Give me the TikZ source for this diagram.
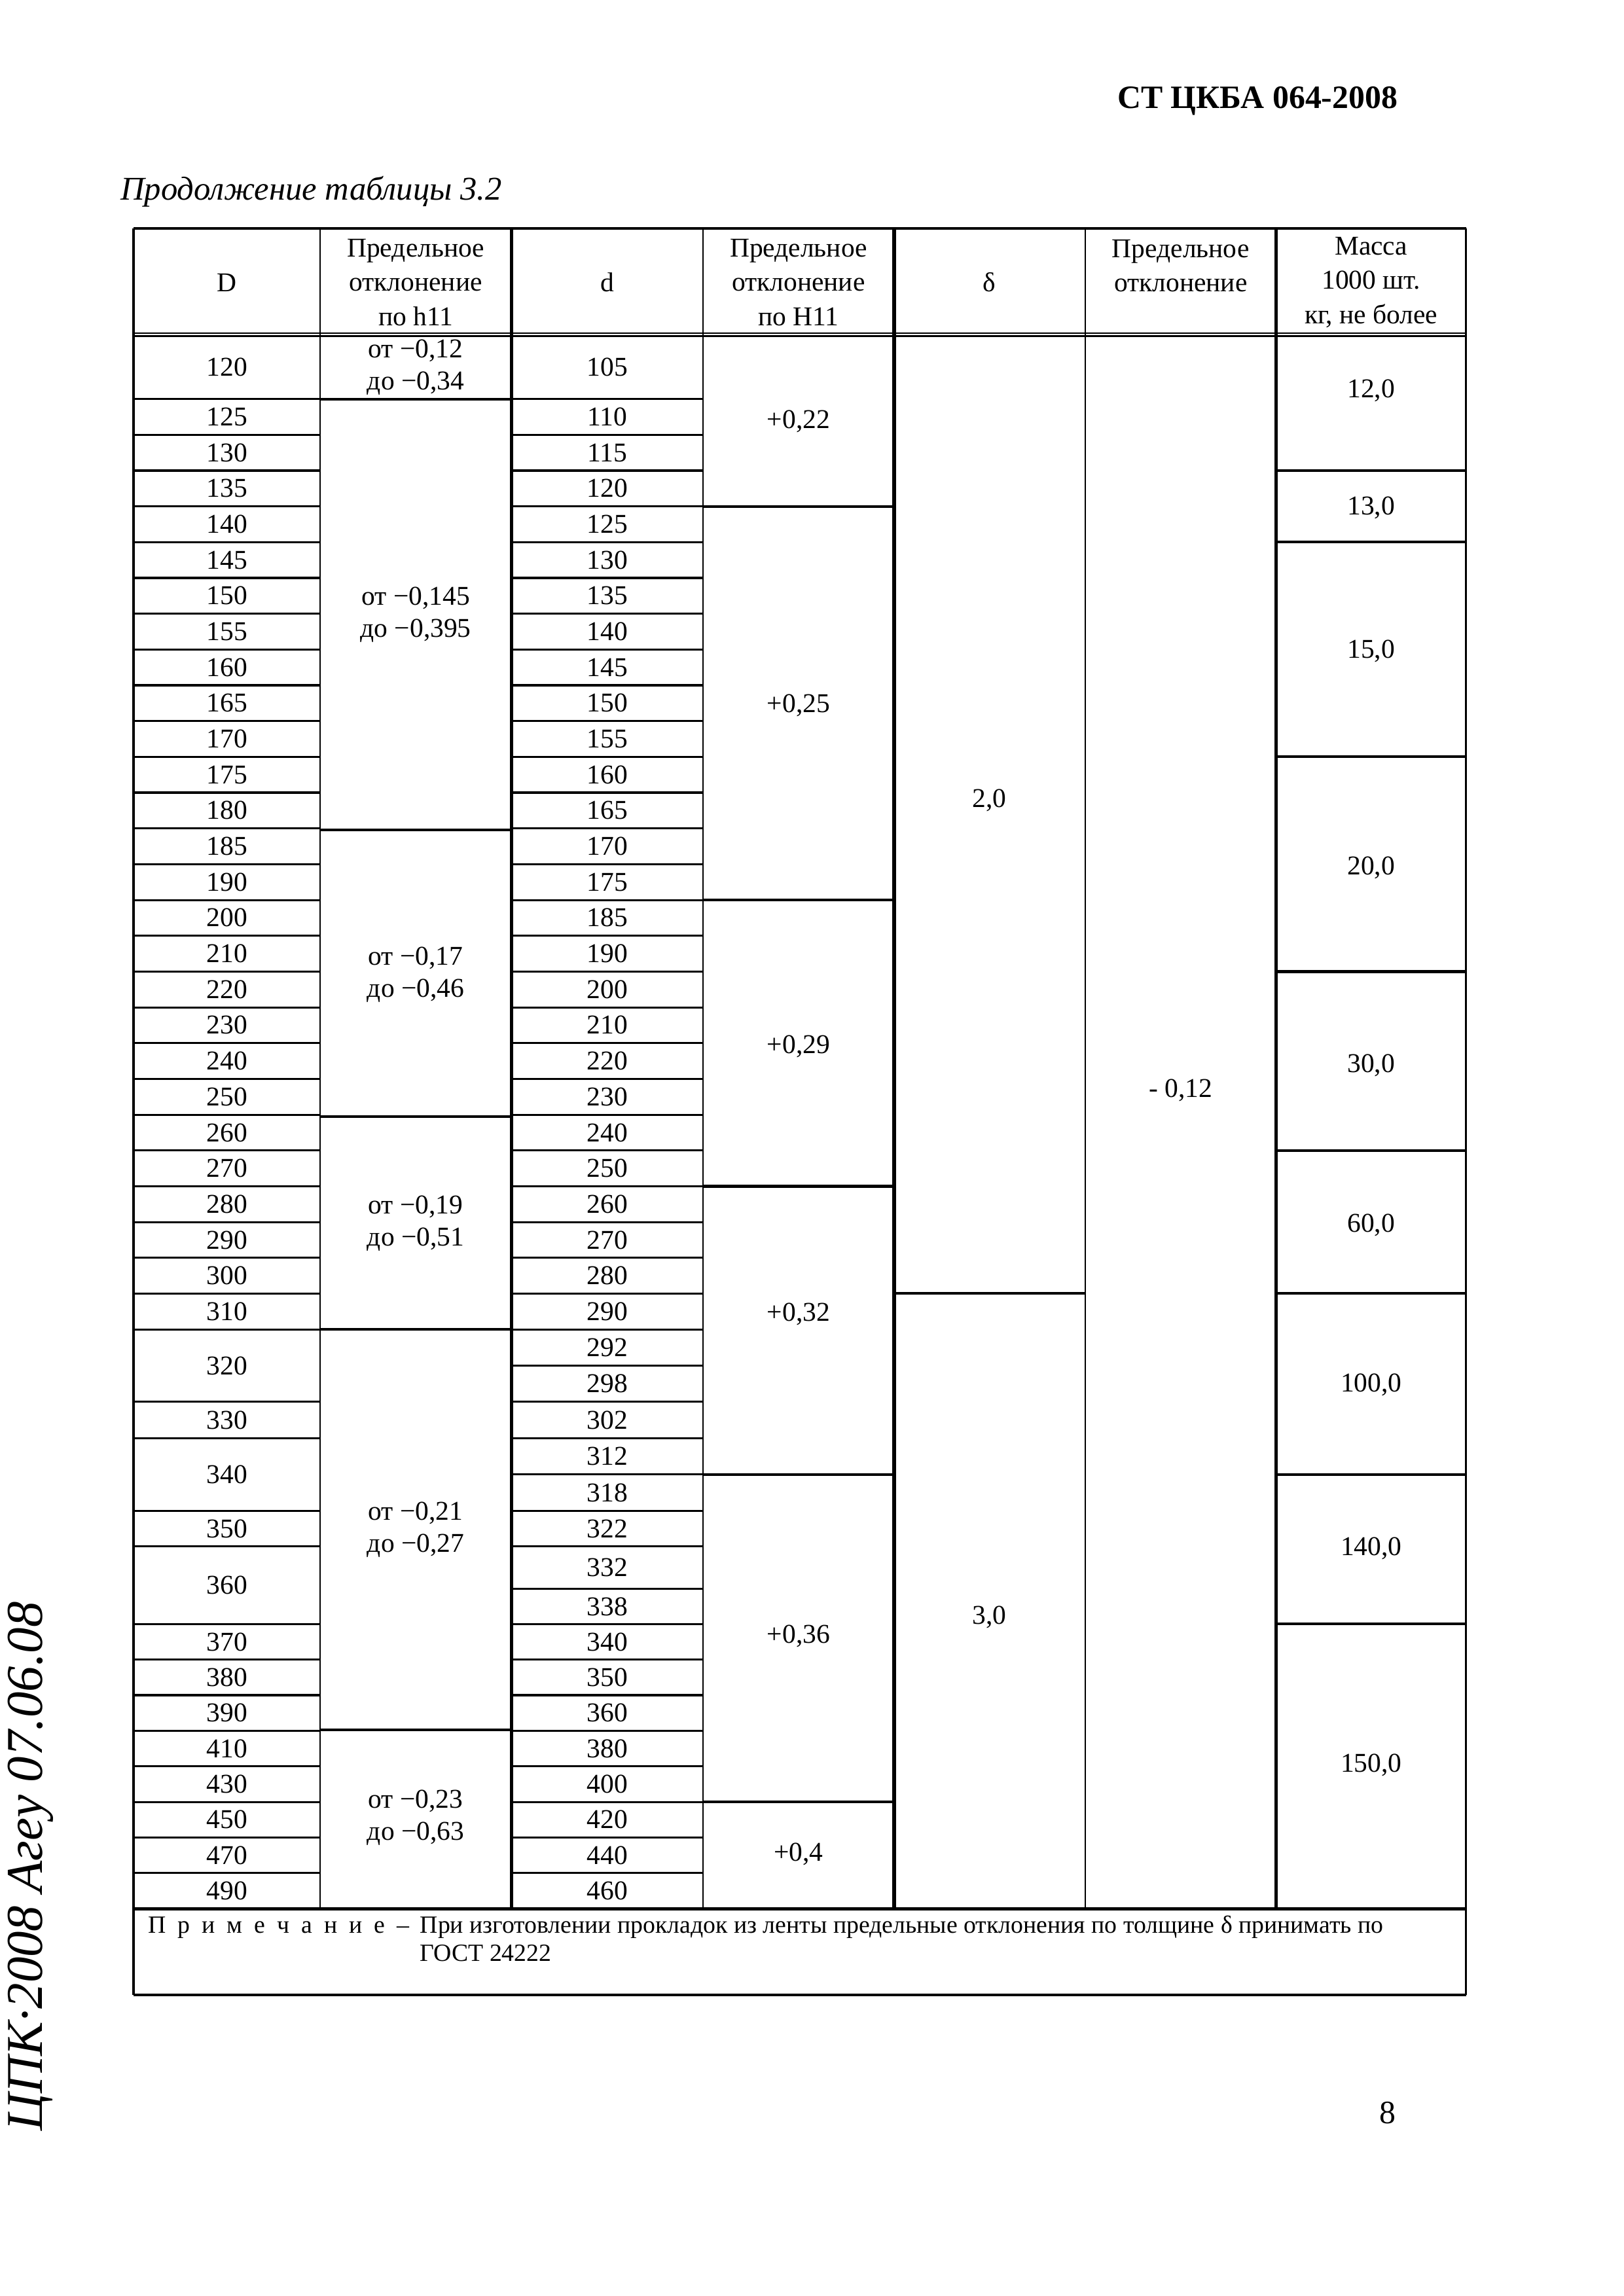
\documentclass[tikz,border=0pt]{standalone}
\usepackage{fontspec}
\setmainfont{Liberation Serif}
\usetikzlibrary{positioning}

\begin{document}
\begin{tikzpicture}[x=0.18936mm, y=-0.18936mm,
    thinrule/.style={line width=0.6pt},
    rowrule/.style={line width=0.75pt},
    grouprule/.style={line width=1pt},
    thickrule/.style={line width=1.25pt},
    cell/.style={font=\fontsize{10}{11.8}\selectfont, align=center, inner sep=0pt},
    head/.style={font=\fontsize{10}{12.6}\selectfont, align=center, inner sep=0pt},
    note/.style={font=\fontsize{9.1}{10.3}\selectfont, inner sep=0pt, anchor=base west}
]

\useasboundingbox (0,0) rectangle (1109,1568.7);

% column borders
\def\xA{91.2}\def\xB{218.6}\def\xC{349.6}\def\xD{480.2}
\def\xE{610.8}\def\xF{741.3}\def\xG{871.9}\def\xH{1001.5}

% page header
\node[anchor=base west, inner sep=0pt, font=\bfseries\fontsize{12}{14}\selectfont] (std) at (763,73.8) {СТ ЦКБА 064-2008};
\node[anchor=base west, inner sep=0pt, font=\itshape\fontsize{12.2}{14}\selectfont] (cont) at (82,136.4) {Продолжение таблицы 3.2};

% frame and column lines
\draw[grouprule] (\xA,156) -- (\xH,156);
\draw[thinrule] (\xA,227.6) -- (\xH,227.6);
\draw[thinrule] (\xA,229.6) -- (\xH,229.6);
\foreach \x/\st in {\xB/thinrule,\xC/thickrule,\xD/thinrule,\xE/thickrule,\xF/thinrule,\xG/thickrule}
    \draw[\st] (\x,156) -- (\x,1304);
\draw[grouprule] (\xA,156) -- (\xA,1363);
\draw[thinrule] (\xH,156) -- (\xH,1363);
\draw[thickrule] (\xA,1304) -- (\xH,1304);
\draw[grouprule] (\xA,1363) -- (\xH,1363);

% header row
\node[head] (hD) at (155,193) {D};
\node[head] (hDev) at (284,193) {Предельное\\отклонение\\по h11};
\node[head] (hd) at (415,193) {d};
\node[head] (hdev) at (545.5,193) {Предельное\\отклонение\\по H11};
\node[head] (hdelta) at (676,193) {δ};
\node[head] (hddev) at (806.6,181.5) {Предельное\\отклонение};
\node[head] (hmass) at (936.7,193) {Масса\\1000 шт.\\кг, не более};

% first row
\node[cell] (D120) at (155,251) {120};
\node[cell] (d105) at (415,251) {105};

% single rows 125 ... 310
\foreach \dv/\sv [count=\i from 0] in {125/110,130/115,135/120,140/125,145/130,150/135,155/140,160/145,165/150,170/155,175/160,180/165,185/170,190/175,200/185,210/190,220/200,230/210,240/220,250/230,260/240,270/250,280/260,290/270,300/280,310/290}{
    \pgfmathsetmacro\yt{272.6+\i*24.45}
    \draw[rowrule] (\xA,\yt) -- (\xB,\yt);
    \draw[rowrule] (\xC,\yt) -- (\xD,\yt);
    \node[cell] (D\dv) at (155,\yt+12.2) {\dv};
    \node[cell] (d\sv) at (415,\yt+12.2) {\sv};
}

% rows 320 ... 360
\foreach \y in {908.3,957.8,982.5,1032.2,1056.6}{
    \draw[rowrule] (\xA,\y) -- (\xB,\y);
    \draw[rowrule] (\xC,\y) -- (\xD,\y);
}
\foreach \y in {933,1007.3,1085.6}
    \draw[rowrule] (\xC,\y) -- (\xD,\y);
\foreach \dv/\y in {320/933,330/970.2,340/1007.3,350/1044.4,360/1083}
    \node[cell] (D\dv) at (155,\y) {\dv};
\foreach \sv/\y in {292/920.6,298/945.4,302/970.2,312/994.9,318/1019.8,322/1044.4,332/1071,338/1097.6}
    \node[cell] (d\sv) at (415,\y) {\sv};

% single rows 370 ... 490
\foreach \dv/\sv [count=\i from 0] in {370/340,380/350,390/360,410/380,430/400,450/420,470/440,490/460}{
    \pgfmathsetmacro\yt{1109.6+\i*24.3}
    \draw[rowrule] (\xA,\yt) -- (\xB,\yt);
    \draw[rowrule] (\xC,\yt) -- (\xD,\yt);
    \node[cell] (D\dv) at (155,\yt+12.15) {\dv};
    \node[cell] (d\sv) at (415,\yt+12.15) {\sv};
}

% deviation h11
\foreach \y in {272.6,567,763,908.3,1182}
    \draw[grouprule] (\xB,\y) -- (\xC,\y);
\node[cell] (h1) at (284,251) {от −0,12\\до −0,34};
\node[cell] (h2) at (284,420) {от −0,145\\до −0,395};
\node[cell] (h3) at (284,666) {от −0,17\\до −0,46};
\node[cell] (h4) at (284,836) {от −0,19\\до −0,51};
\node[cell] (h5) at (284,1045) {от −0,21\\до −0,27};
\node[cell] (h6) at (284,1242) {от −0,23\\до −0,63};

% deviation H11
\foreach \y in {346,615,810.5,1007.3,1231}
    \draw[grouprule] (\xD,\y) -- (\xE,\y);
\foreach \v/\y [count=\i] in {{+0,22}/288,{+0,25}/482,{+0,29}/715,{+0,32}/898,{+0,36}/1118,{+0,4}/1267}
    \node[cell] (H\i) at (545.5,\y) {\v};

% thickness and its deviation
\draw[grouprule] (\xE,883.8) -- (\xF,883.8);
\node[cell] (s1) at (676,547) {2,0};
\node[cell] (s2) at (676,1105) {3,0};
\node[cell] (sdev) at (806.6,745) {- 0,12};

% mass
\foreach \y in {321.5,370.4,517.1,663.8,786,883.8,1007.3,1109.6}
    \draw[grouprule] (\xG,\y) -- (\xH,\y);
\foreach \v/\y [count=\i] in {{12,0}/267,{13,0}/347,{15,0}/445,{20,0}/593,{30,0}/728,{60,0}/837,{100,0}/946,{140,0}/1058,{150,0}/1206}
    \node[cell] (m\i) at (936.7,\y) {\v};

% note
\node[note] (noteA) at (100.7,1320.8) {\makebox[33.8mm][s]{П р и м е ч а н и е –}};
\node[note] (noteB) at (286.6,1320.8) {При изготовлении прокладок из ленты предельные отклонения по толщине δ принимать по};
\node[note] (noteC) at (286.6,1340) {ГОСТ 24222};

% handwritten mark and page number
\node[rotate=90, inner sep=0pt, font=\itshape\fontsize{19}{19}\selectfont] (sign) at (21,1275) {ЦПК·2008 Агеу 07.06.08};
\node[anchor=base, inner sep=0pt, font=\fontsize{12}{14}\selectfont] (page) at (948,1451) {8};

\end{tikzpicture}
\end{document}
